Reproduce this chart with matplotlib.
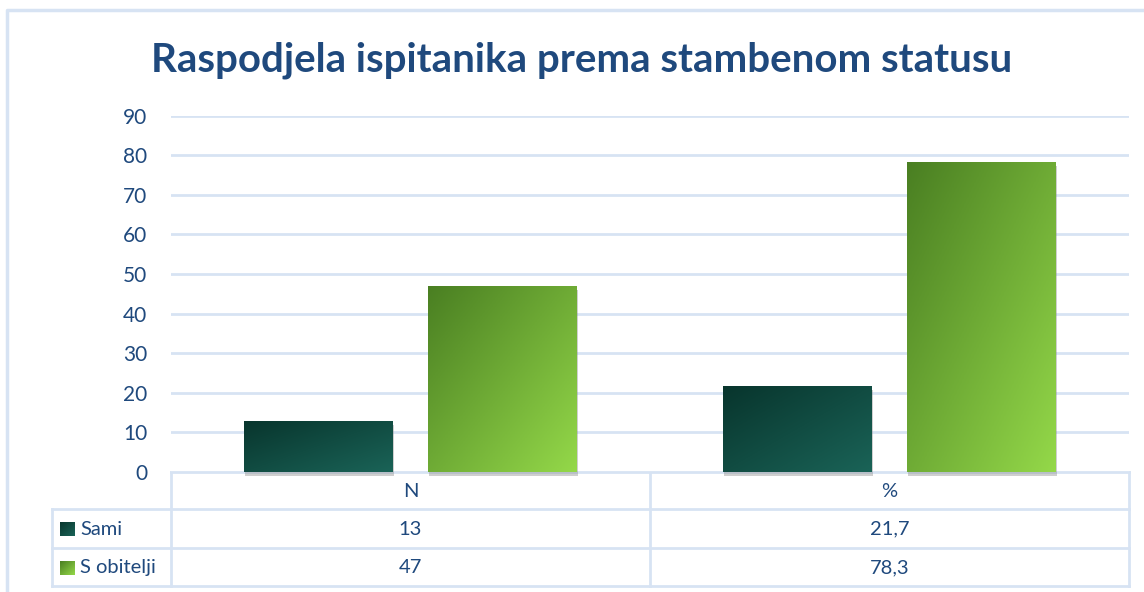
import numpy as np
import matplotlib
matplotlib.use('Agg')
from matplotlib import pyplot as plt
from matplotlib import patheffects as pe
from matplotlib.colors import to_rgb

categories = ['N', '%']
series = ['Sami', 'S obitelji']
sami = [13, 21.7]
s_obitelji = [47, 78.3]
yticks = [0, 10, 20, 30, 40, 50, 60, 70, 80, 90]

title = 'Raspodjela ispitanika prema stambenom statusu'
txt = '#1f497d'
line_c = '#d7e3f3'
grads = [('#08352d', '#1a6357'), ('#4a7f22', '#94d849')]

plt.rcParams['font.family'] = ['Lato', 'DejaVu Sans']

W, H = 1144, 592
fig = plt.figure(figsize=(W / 100, H / 100), dpi=100)

# layout in pixels
x0, x1 = 171, 1129
y_zero, y_top = 472, 115.7
ax = fig.add_axes([x0 / W, 1 - y_zero / H, (x1 - x0) / W, (y_zero - y_top) / H])


def gradient(c0, c1, n=60):
    a, b = np.array(to_rgb(c0)), np.array(to_rgb(c1))
    u = np.linspace(0, 1, n)
    t = (u[None, :] + u[:, None]) / 2
    return a + (b - a) * t[..., None]


bw = 0.311
off = (bw + 0.073) / 2
xs = np.arange(len(categories))
for k, (vals, g) in enumerate(zip([sami, s_obitelji], grads)):
    pos = xs + (off if k else -off)
    bars = ax.bar(pos, vals, bw, color=g[1], zorder=3, clip_on=False,
                  path_effects=[pe.SimplePatchShadow(offset=(0.5, -3), shadow_rgbFace='#888888', alpha=0.4),
                                pe.Normal()])
    for b in bars:
        im = ax.imshow(gradient(*g), extent=[b.get_x(), b.get_x() + b.get_width(), 0, b.get_height()],
                       aspect='auto', origin='upper', zorder=4)
        im.set_clip_path(b)

ax.set_xlim(-0.5, len(categories) - 0.5)
ax.set_ylim(0, 90)
ax.set_yticks(yticks)
ax.set_xticks([])
ax.tick_params(axis='y', length=0, pad=17, labelsize=15, labelcolor=txt)
ax.yaxis.grid(True, color=line_c, lw=2)
ax.set_axisbelow(True)
for s in ax.spines.values():
    s.set_visible(False)

# overlay in pixel coords for the data table and frame
ov = fig.add_axes([0, 0, 1, 1], zorder=-1)
ov.set_xlim(0, W)
ov.set_ylim(H, 0)
ov.axis('off')
ov.plot([7, 7, W], [H, 10, 10], color=line_c, lw=2.5)

rows = [y_zero, 509, 547.5, 586]
xm = (x0 + x1) / 2
tl = dict(color=line_c, lw=2)
ov.plot([x0, x1], [rows[0], rows[0]], **tl)
for r in rows[1:]:
    ov.plot([52, x1], [r, r], **tl)
ov.plot([x0, x0], [rows[0], rows[-1]], **tl)
ov.plot([xm, xm], [rows[0], rows[-1]], **tl)
ov.plot([x1, x1], [rows[0], rows[-1]], **tl)
ov.plot([52, 52], [rows[1], rows[-1]], **tl)

centers = [x0 + (x1 - x0) * (i + 0.5) / len(categories) for i in range(len(categories))]
for c, lab in zip(centers, categories):
    ov.text(c, (rows[0] + rows[1]) / 2 + 1, lab, ha='center', va='center', fontsize=14.5, color=txt)
for k, (name, vals, g) in enumerate(zip(series, [sami, s_obitelji], grads)):
    yc = (rows[k + 1] + rows[k + 2]) / 2 + 1
    ov.imshow(gradient(*g), extent=[60, 75, yc + 7, yc - 7], aspect='auto', origin='upper')
    ov.text(80, yc, name, ha='left', va='center', fontsize=14.5, color=txt)
    for c, v in zip(centers, vals):
        ov.text(c, yc, f'{v:g}'.replace('.', ','), ha='center', va='center', fontsize=14.5, color=txt)
ov.set_xlim(0, W)
ov.set_ylim(H, 0)

fig.text(582 / W, 1 - 60 / H, title, ha='center', va='center', fontsize=29,
         fontweight='bold', color=txt)

fig.savefig('out.png', dpi=100, facecolor='white')
